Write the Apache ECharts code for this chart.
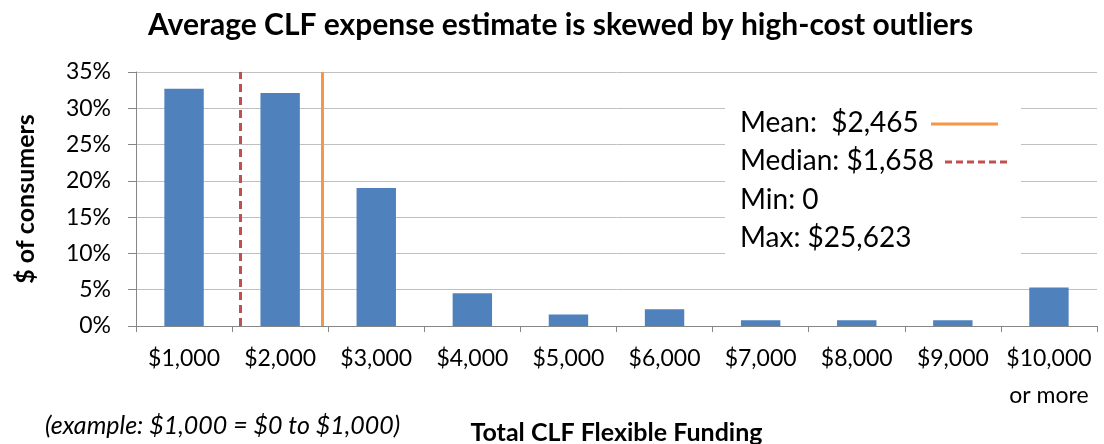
<!DOCTYPE html>
<html><head><meta charset="utf-8">
<script src="https://cdn.jsdelivr.net/npm/echarts@6/dist/echarts.min.js"></script>
<style>html,body{margin:0;padding:0;background:#fff}#c{width:1104px;height:444px}</style>
</head><body><div id="c"></div>
<script>
var categories = ['$1,000','$2,000','$3,000','$4,000','$5,000','$6,000','$7,000','$8,000','$9,000','$10,000\nor more'];
var shares = [32.7, 32.1, 19.0, 4.5, 1.6, 2.3, 0.8, 0.8, 0.8, 5.3];
var yTicks = [0, 5, 10, 15, 20, 25, 30, 35];
// positions of the reference lines as drawn, in category-width units from the left edge
var meanPos = 1.94;
var medianPos = 1.09;
var statLines = ['Mean:  $2,465', 'Median: $1,658', 'Min: 0', 'Max: $25,623'];

var FONT = 'Lato';
var chart = echarts.init(document.getElementById('c'), null, {renderer:'canvas'});
var option = {
  animation: false,
  backgroundColor: '#fff',
  title: {
    text: 'Average CLF expense estimate is skewed by high-cost outliers',
    left: 143, top: 5,
    textStyle: {fontFamily: FONT, fontWeight: 'bold', fontSize: 30, color: '#000'}
  },
  grid: {left: 136, right: 7, top: 72, bottom: 118, containLabel: false, outerBoundsMode: 'none'},
  xAxis: [{
    type: 'category', data: categories,
    axisLine: {lineStyle: {color: '#868686'}},
    axisTick: {show: true, alignWithLabel: false, length: 6, lineStyle: {color: '#868686'}},
    axisLabel: {fontFamily: FONT, fontSize: 23, color: '#000', margin: 14, lineHeight: 37, interval: 0},
    name: 'Total CLF Flexible Funding', nameLocation: 'middle', nameGap: 94,
    nameTextStyle: {fontFamily: FONT, fontWeight: 'bold', fontSize: 25, color: '#000'}
  }, {
    type: 'value', min: 0, max: 10, show: false
  }],
  yAxis: [{
    type: 'value', min: 0, max: 35, interval: 5,
    axisLine: {show: true, lineStyle: {color: '#868686'}},
    axisTick: {show: true, length: 8, lineStyle: {color: '#868686'}},
    splitLine: {lineStyle: {color: '#c0c0c0', width: 1}},
    axisLabel: {fontFamily: FONT, fontSize: 23, color: '#000', margin: 25,
      formatter: function(v){ return yTicks.indexOf(v) >= 0 ? v + '%' : ''; }},
    name: '$ of consumers', nameLocation: 'middle', nameGap: 98, nameRotate: 90,
    nameTextStyle: {fontFamily: FONT, fontWeight: 'bold', fontSize: 25, color: '#000'}
  }],
  series: [{
    type: 'bar', data: shares, barWidth: '41%', xAxisIndex: 0,
    itemStyle: {color: '#4F81BD'}, z: 2
  }, {
    type: 'line', xAxisIndex: 1, data: [], silent: true,
    markLine: {
      silent: true, symbol: 'none', label: {show: false}, animation: false,
      data: [
        [{coord: [medianPos, 0], lineStyle: {color: '#C0504D', width: 3, type: [8, 5]}}, {coord: [medianPos, 35]}],
        [{coord: [meanPos, 0], lineStyle: {color: '#F79646', width: 3, type: 'solid'}}, {coord: [meanPos, 35]}]
      ]
    }
  }],
  graphic: [
    {type: 'rect', shape: {x: 725, y: 98, width: 296, height: 168}, style: {fill: '#fff'}, z: 10},
    {type: 'text', left: 740, top: 109, z: 11, style: {text: statLines[0], font: '28px ' + FONT, fill: '#000'}},
    {type: 'text', left: 740, top: 147, z: 11, style: {text: statLines[1], font: '28px ' + FONT, fill: '#000'}},
    {type: 'text', left: 740, top: 186, z: 11, style: {text: statLines[2], font: '28px ' + FONT, fill: '#000'}},
    {type: 'text', left: 740, top: 224, z: 11, style: {text: statLines[3], font: '28px ' + FONT, fill: '#000'}},
    {type: 'line', z: 11, shape: {x1: 931, y1: 124, x2: 998, y2: 124}, style: {stroke: '#F79646', lineWidth: 3}},
    {type: 'line', z: 11, shape: {x1: 945, y1: 162, x2: 1010, y2: 162}, style: {stroke: '#C0504D', lineWidth: 3, lineDash: [7, 4]}},
    {type: 'text', left: 45, top: 413, style: {text: '(example: $1,000 = $0 to $1,000)', font: 'italic 25px ' + FONT, fill: '#000'}}
  ]
};
chart.setOption(option);
</script></body></html>
